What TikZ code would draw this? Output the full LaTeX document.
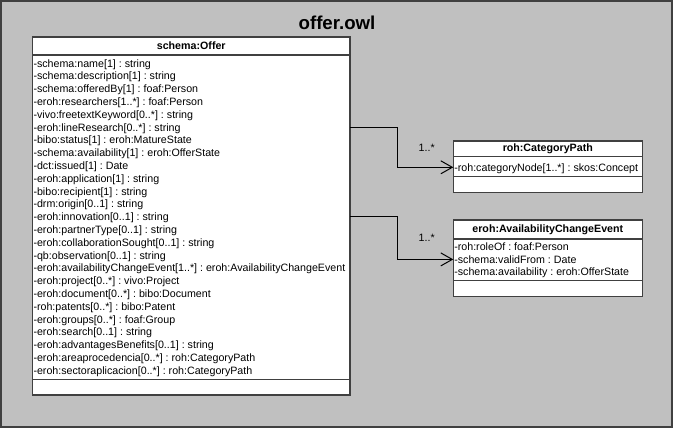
\documentclass[tikz,border=0pt]{standalone}
\usepackage{fontspec}
\setmainfont{Liberation Sans}
\usetikzlibrary{arrows.meta}
\definecolor{bggray}{HTML}{C0C0C0}
\definecolor{edgegray}{HTML}{404040}
\frenchspacing
\begin{document}
\frenchspacing
\begin{tikzpicture}[x=1pt,y=-1pt,
  umlbox/.style={draw=edgegray, line width=1.3pt, fill=white, rectangle, inner sep=0pt, outer sep=0pt, anchor=north west},
  attr/.style={anchor=west, inner sep=0pt, text height=7.6pt, text depth=0pt, font=\fontsize{10.67}{12.8}\selectfont},
  head/.style={inner sep=0pt, font=\fontsize{10.67}{12.8}\selectfont\bfseries},
  sep/.style={draw=edgegray, line width=1.3pt},
  assoc/.style={draw=black, line width=1pt, -{Straight Barb[length=11.5pt,width=13pt]}},
  mult/.style={font=\fontsize{10.67}{12.8}\selectfont, inner sep=0pt}]
\useasboundingbox (0,0) rectangle (674,429);
\node[draw=edgegray, line width=2pt, fill=bggray, minimum width=671, minimum height=426, anchor=north west, inner sep=0pt, outer sep=0pt] (frame) at (1,1) {};
\node[font=\fontsize{18.67}{22}\selectfont\bfseries, inner sep=0pt] (title) at (337,23) {offer.owl};

% schema:Offer
\node[umlbox, minimum width=317.5, minimum height=358] (offer) at (32.5,37) {};
\node[head] (offerh) at (191.25,46) {schema:Offer};
\draw[sep] (offer.west |- 0,55) -- (offer.east |- 0,55);
\draw[sep] (offer.west |- 0,379.3) -- (offer.east |- 0,379.3);
\foreach \t [count=\i from 0] in {
 {-schema:name[1] : string},
 {-schema:description[1] : string},
 {-schema:offeredBy[1] : foaf:Person},
 {-eroh:researchers[1..*] : foaf:Person},
 {-vivo:freetextKeyword[0..*] : string},
 {-eroh:lineResearch[0..*] : string},
 {-bibo:status[1] : eroh:MatureState},
 {-schema:availability[1] : eroh:OfferState},
 {-dct:issued[1] : Date},
 {-eroh:application[1] : string},
 {-bibo:recipient[1] : string},
 {-drm:origin[0..1] : string},
 {-eroh:innovation[0..1] : string},
 {-eroh:partnerType[0..1] : string},
 {-eroh:collaborationSought[0..1] : string},
 {-qb:observation[0..1] : string},
 {-eroh:availabilityChangeEvent[1..*] : eroh:AvailabilityChangeEvent},
 {-eroh:project[0..*] : vivo:Project},
 {-eroh:document[0..*] : bibo:Document},
 {-roh:patents[0..*] : bibo:Patent},
 {-eroh:groups[0..*] : foaf:Group},
 {-eroh:search[0..1] : string},
 {-eroh:advantagesBenefits[0..1] : string},
 {-eroh:areaprocedencia[0..*] : roh:CategoryPath},
 {-eroh:sectoraplicacion[0..*] : roh:CategoryPath}}
 \node[attr] (oa\i) at (33.3,{63.3+12.8*\i}) {\t};

% roh:CategoryPath
\node[umlbox, minimum width=189, minimum height=51.7] (cp) at (453.3,141) {};
\node[head] (cph) at (547.8,148.8) {roh:CategoryPath};
\draw[sep] (cp.west |- 0,156.7) -- (cp.east |- 0,156.7);
\draw[sep] (cp.west |- 0,176.7) -- (cp.east |- 0,176.7);
\node[attr] (cpa0) at (454.1,167.3) {-roh:categoryNode[1..*] : skos:Concept};

% eroh:AvailabilityChangeEvent
\node[umlbox, minimum width=189, minimum height=76.7] (ace) at (453.3,220) {};
\node[head] (aceh) at (547.8,229.5) {eroh:AvailabilityChangeEvent};
\draw[sep] (ace.west |- 0,239) -- (ace.east |- 0,239);
\draw[sep] (ace.west |- 0,280.7) -- (ace.east |- 0,280.7);
\node[attr] (acea0) at (454.1,246.7) {-roh:roleOf : foaf:Person};
\node[attr] (acea1) at (454.1,259.4) {-schema:validFrom : Date};
\node[attr] (acea2) at (454.1,272.1) {-schema:availability : eroh:OfferState};

% associations
\draw[assoc] (offer.east |- oa5) -- ++(47.5,0) |- (cp.west |- cpa0);
\draw[assoc] (offer.east |- oa12) -- ++(47.5,0) |- (ace.west |- acea1);
\node[mult] (m1) at (426.7,147.7) {1..*};
\node[mult] (m2) at (426.7,238) {1..*};
\end{tikzpicture}
\end{document}
